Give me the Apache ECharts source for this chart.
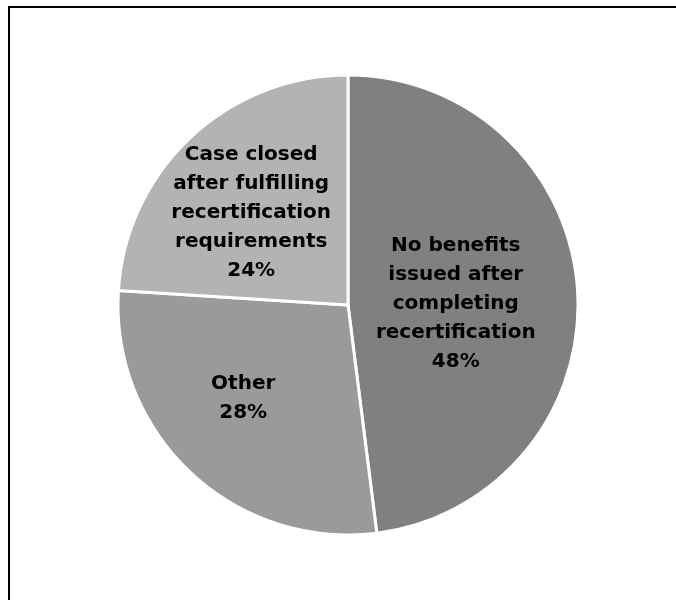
<!DOCTYPE html>
<html>
<head>
<meta charset="utf-8">
<script src="https://cdn.jsdelivr.net/npm/echarts@6/dist/echarts.min.js"></script>
<style>
  html, body { margin: 0; padding: 0; background: #fff; }
  #chart { width: 676px; height: 600px; }
</style>
</head>
<body>
<div id="chart"></div>
<script>
// Outcome categories (line breaks are how the labels wrap inside the slices)
const categories = [
  'No benefits\nissued after\ncompleting\nrecertification',
  'Other',
  'Case closed\nafter fulfilling\nrecertification\nrequirements'
];
// Share of cases, percent
const shares = [48, 28, 24];
// Slice fills
const sliceColors = ['#808080', '#9a9a9a', '#b3b3b3'];
// Nudges so each label sits where it reads best within its slice
const labelOffsets = [[-10, 6], [-24, 7], [-16, -6]];

const chart = echarts.init(document.getElementById('chart'), null, { renderer: 'canvas' });

const data = categories.map((name, i) => ({
  name: name,
  value: shares[i],
  itemStyle: { color: sliceColors[i] },
  label: { offset: labelOffsets[i] }
}));

chart.setOption({
  animation: false,
  backgroundColor: '#ffffff',
  graphic: [{
    type: 'rect',
    silent: true,
    shape: { x: 9, y: 7, width: 2000, height: 2000 },
    style: { fill: 'none', stroke: '#000000', lineWidth: 2 }
  }],
  series: [{
    type: 'pie',
    center: [348, 305],
    radius: [0, 230],
    startAngle: 90,
    clockwise: true,
    avoidLabelOverlap: false,
    itemStyle: { borderColor: '#ffffff', borderWidth: 3 },
    label: {
      show: true,
      position: 'inside',
      formatter: '{b}\n{d}%',
      color: '#000000',
      fontFamily: 'DejaVu Sans',
      fontWeight: 'bold',
      fontSize: 20,
      lineHeight: 29,
      align: 'center'
    },
    labelLine: { show: false },
    emphasis: { disabled: true },
    data: data
  }]
});
</script>
</body>
</html>
